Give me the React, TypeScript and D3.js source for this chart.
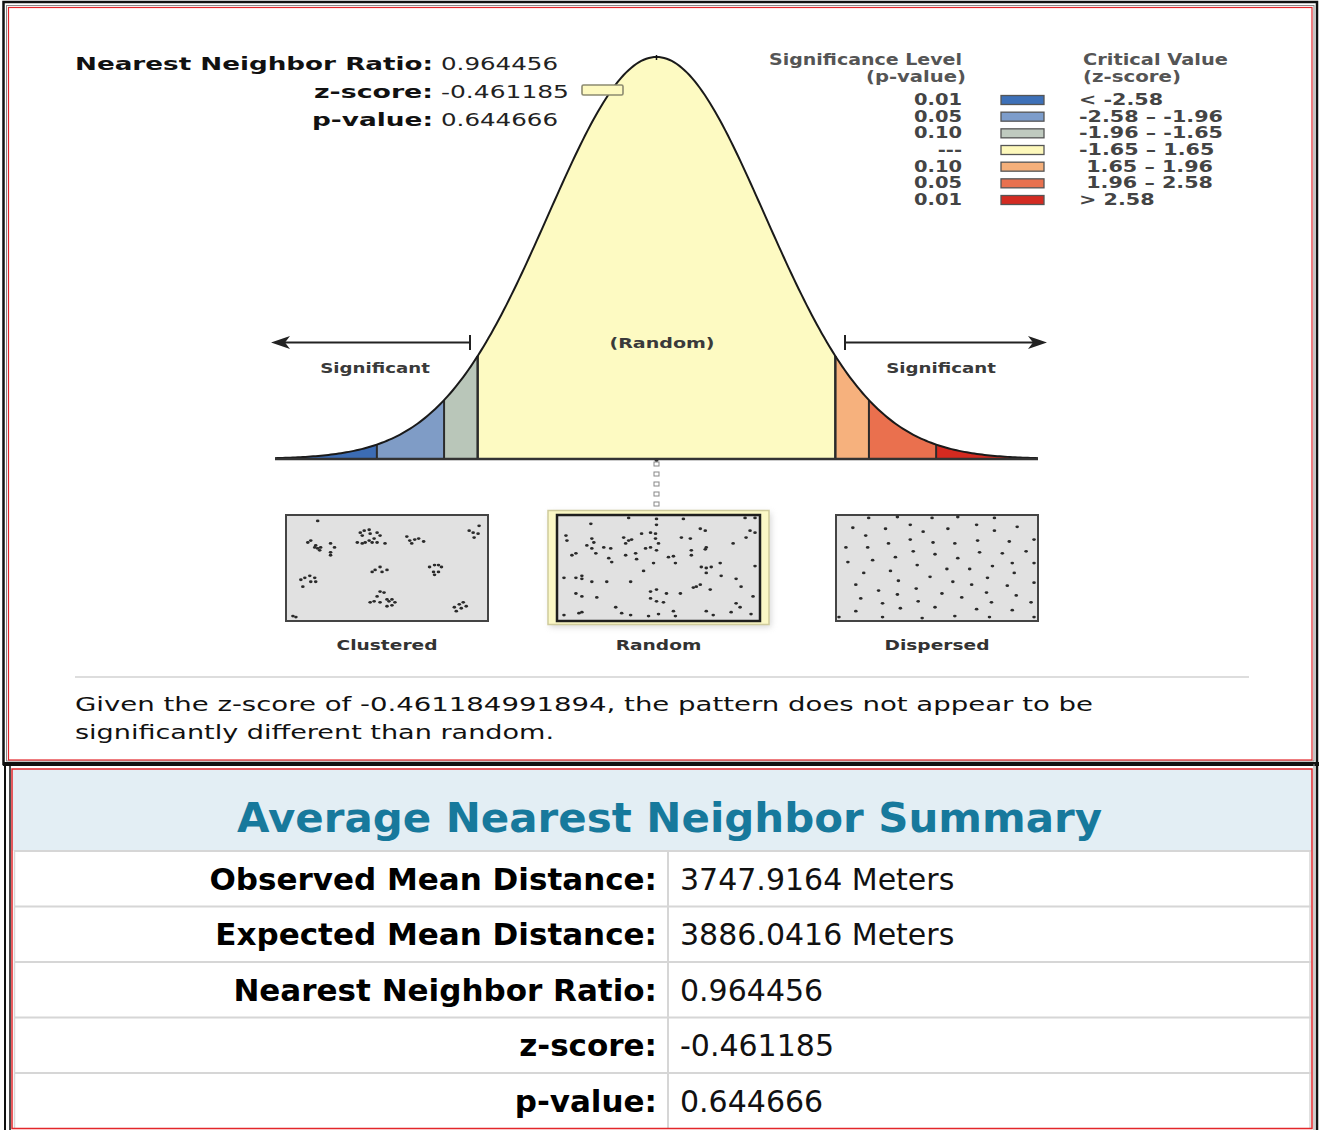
import React from "react";
import * as d3 from "d3";

// ---------- data ----------
const zBreaks = [-3.52, -2.58, -1.96, -1.65, 1.65, 1.96, 2.58, 3.52];
const sectionColors = ["#3c6cb4", "#7f9cc6", "#b9c6b9", "#fdfac2", "#f6b17d", "#ea704e", "#d42a20"];
const pLevels = ["0.01", "0.05", "0.10", "---", "0.10", "0.05", "0.01"];
const zRanges = ["< -2.58", "-2.58 – -1.96", "-1.96 – -1.65", "-1.65 – 1.65", " 1.65 – 1.96", " 1.96 – 2.58", "> 2.58"];
const legendColors = ["#3d70b8", "#7d9dcb", "#bfcabf", "#fdf8bb", "#f5b07b", "#e8714f", "#d32b22"];
const headlineLabels = ["Nearest Neighbor Ratio:", "z-score:", "p-value:"];
const headlineValues = ["0.964456", "-0.461185", "0.644666"];
const patternNames = ["Clustered", "Random", "Dispersed"];
const conclusionLines = [
  "Given the z-score of -0.461184991894, the pattern does not appear to be",
  "significantly different than random.",
];
const summaryTitle = "Average Nearest Neighbor Summary";
const summaryLabels = ["Observed Mean Distance:", "Expected Mean Distance:", "Nearest Neighbor Ratio:", "z-score:", "p-value:"];
const summaryValues = ["3747.9164 Meters", "3886.0416 Meters", "0.964456", "-0.461185", "0.644666"];

const clusteredDots: [number, number][] = [
  [31, 5], [21, 27], [24, 25], [28, 32], [31, 33], [34, 32], [33, 35], [29, 30],
  [44, 28], [48, 32], [44, 37], [44, 40],
  [74, 17], [78, 15], [83, 14], [76, 20], [84, 18], [91, 17], [94, 20], [88, 23], [83, 25], [79, 27], [76, 28], [71, 27], [91, 27], [99, 28], [86, 27],
  [121, 21], [124, 25], [129, 24], [133, 23], [138, 26], [126, 28],
  [184, 15], [188, 17], [193, 18], [194, 10], [189, 22],
  [14, 65], [18, 63], [23, 61], [28, 63], [29, 67], [16, 72], [24, 67],
  [86, 57], [89, 55], [94, 52], [96, 57], [101, 55],
  [144, 52], [149, 50], [153, 50], [156, 52], [148, 57], [153, 57], [149, 60],
  [94, 77], [98, 78], [91, 82], [101, 85], [84, 88], [88, 87], [94, 88], [103, 87], [106, 85], [109, 88], [101, 92], [106, 91],
  [169, 93], [171, 97], [174, 90], [178, 88], [181, 92], [176, 94],
  [6, 102], [9, 103],
];
const randomDots: [number, number][] = [
  [33, 8], [71, 2], [99, 3], [126, 3], [188, 2], [198, 2], [99, 9], [143, 13], [148, 15], [193, 15], [198, 17],
  [8, 20], [9, 25], [34, 23], [36, 27], [29, 30], [34, 33], [46, 32], [53, 33], [66, 22], [71, 25], [74, 24], [68, 28],
  [84, 18], [93, 17], [98, 18], [98, 23], [101, 28], [93, 32], [88, 33], [99, 35], [124, 22], [133, 23], [149, 32],
  [148, 34], [134, 35], [176, 28], [189, 22],
  [14, 40], [18, 38], [38, 38], [51, 43], [54, 47], [68, 40], [78, 38], [79, 44], [96, 48], [111, 42], [116, 41],
  [118, 48], [134, 40], [144, 52], [149, 53], [154, 52], [163, 48], [149, 58], [164, 61], [198, 51],
  [6, 63], [18, 63], [24, 61], [24, 64], [34, 67], [49, 67], [73, 67], [86, 56], [139, 72], [143, 70], [153, 75], [179, 64], [184, 72],
  [18, 79], [24, 82], [39, 83], [93, 77], [99, 75], [93, 84], [99, 87], [106, 88], [109, 79], [123, 79], [136, 73], [196, 82], [179, 89], [183, 93],
  [6, 101], [21, 99], [24, 98], [58, 93], [64, 99], [73, 101], [91, 102], [101, 100], [116, 97], [118, 102], [149, 97], [156, 101], [174, 98], [194, 100],
];
const dispersedDots: [number, number][] = [
  [32, 2], [61, 1], [96, 2], [122, 1], [159, 2],
  [16, 12], [49, 13], [74, 9], [87, 16], [112, 13], [141, 9], [159, 15], [182, 11],
  [29, 20], [52, 28], [74, 24], [97, 27], [119, 28], [142, 25], [174, 26], [199, 24],
  [9, 32], [31, 32], [77, 36], [99, 39], [122, 43], [144, 37], [167, 38], [191, 36],
  [11, 47], [36, 45], [59, 42], [81, 50], [111, 54], [134, 54], [157, 51], [177, 48], [199, 48],
  [27, 58], [54, 56], [94, 62], [117, 67], [136, 70], [152, 63], [179, 58], [199, 68],
  [19, 70], [42, 76], [62, 66], [80, 74], [106, 79], [126, 83], [151, 78], [172, 71],
  [24, 84], [46, 89], [61, 80], [82, 87], [156, 88], [181, 81], [196, 88],
  [19, 97], [64, 94], [99, 93], [141, 95], [177, 96],
  [2, 103], [46, 103], [86, 104], [119, 102], [154, 103], [199, 103],
];

// ---------- layout ----------
const W = 1320;
const H = 1130;
const FONT = "'DejaVu Sans', Verdana, sans-serif";

const xZ = d3.scaleLinear().domain([-3.52, 3.52]).range([275, 1038]);
const yP = d3.scaleLinear().domain([0, 1]).range([459, 57]);
const pdf = (z: number) => Math.exp((-z * z) / 2);

const sample = (a: number, b: number, n = 80) => d3.range(n + 1).map((k) => a + ((b - a) * k) / n);

const areaGen = d3
  .area<number>()
  .x((z) => xZ(z))
  .y0(yP(0))
  .y1((z) => yP(pdf(z)));
const lineGen = d3
  .line<number>()
  .x((z) => xZ(z))
  .y((z) => yP(pdf(z)));

const boxes = [
  { x0: 286, x1: 488 },
  { x0: 557, x1: 760 },
  { x0: 836, x1: 1038 },
];
const boxY0 = 515;
const boxY1 = 621;
const dotSets = [clusteredDots, randomDots, dispersedDots];

const legendRowY = d3.scaleLinear().domain([0, 6]).range([100, 200]);
const tableRowTop = d3.scaleLinear().domain([0, 5]).range([851, 1128.5]);

function Stretch({ x, y, sx, anchor = "start", children, size, weight = "normal", fill = "#111" }: any) {
  return (
    <text
      transform={`translate(${x},${y}) scale(${sx},1)`}
      textAnchor={anchor}
      fontSize={size}
      fontWeight={weight}
      fill={fill}
      fontFamily={FONT}
      style={{ whiteSpace: "pre" }}
    >
      {children}
    </text>
  );
}

export default function App() {
  const headLabelLen = [358, 119, 121];
  const headValueLen = [117, 128, 117];
  const headBase = [70, 98, 126];

  return (
    <svg
      width={W}
      height={H}
      viewBox={`0 0 ${W} ${H}`}
      style={{ position: "absolute", left: 0, top: 0, background: "#fff" }}
      fontFamily={FONT}
    >
      <defs>
        <filter id="shadow" x="-20%" y="-20%" width="140%" height="140%">
          <feGaussianBlur stdDeviation="3" />
        </filter>
      </defs>
      <rect x={0} y={0} width={W} height={H} fill="#fff" />

      {/* ---------- frames ---------- */}
      <rect x={3.5} y={2} width={1313.5} height={762} fill="none" stroke="#111" strokeWidth={2.5} />
      <rect x={6.5} y={5.5} width={1307.5} height={755.5} fill="none" stroke="#888" strokeWidth={1} />
      <rect x={8.5} y={7.5} width={1303.5} height={752.5} fill="none" stroke="#e3262a" strokeWidth={1.2} />
      <line x1={3} x2={1319} y1={764} y2={764} stroke="#111" strokeWidth={4} />
      <line x1={5} x2={5} y1={764} y2={H} stroke="#111" strokeWidth={2} />
      <line x1={10} x2={10} y1={764} y2={H} stroke="#111" strokeWidth={1.5} />
      <line x1={1317} x2={1317} y1={764} y2={H} stroke="#111" strokeWidth={2.5} />
      <line x1={1314} x2={1314} y1={764} y2={H} stroke="#999" strokeWidth={1} />

      {/* ---------- headline stats ---------- */}
      {headlineLabels.map((l, i) => (
        <g key={l}>
          <text
            x={433}
            y={headBase[i]}
            textAnchor="end"
            fontSize={18}
            fontWeight="bold"
            fill="#111"
            textLength={headLabelLen[i]}
            lengthAdjust="spacingAndGlyphs"
          >
            {l}
          </text>
          <text
            x={441}
            y={headBase[i]}
            fontSize={18}
            fill="#222"
            textLength={headValueLen[i]}
            lengthAdjust="spacingAndGlyphs"
          >
            {headlineValues[i]}
          </text>
        </g>
      ))}

      {/* ---------- legend ---------- */}
      <text x={962} y={65} textAnchor="end" fontSize={15} fontWeight="bold" fill="#555" textLength={193} lengthAdjust="spacingAndGlyphs">
        Significance Level
      </text>
      <text x={966} y={82} textAnchor="end" fontSize={15} fontWeight="bold" fill="#555" textLength={100} lengthAdjust="spacingAndGlyphs">
        (p-value)
      </text>
      <text x={1083} y={65} fontSize={15} fontWeight="bold" fill="#555" textLength={145} lengthAdjust="spacingAndGlyphs">
        Critical Value
      </text>
      <text x={1083} y={82} fontSize={15} fontWeight="bold" fill="#555" textLength={98} lengthAdjust="spacingAndGlyphs">
        (z-score)
      </text>
      {pLevels.map((p, i) => (
        <g key={i}>
          <Stretch x={962} y={legendRowY(i) + 5} sx={1.3} anchor="end" size={15} weight="bold" fill="#444">
            {p}
          </Stretch>
          <rect x={1001} y={legendRowY(i) - 4.5} width={43} height={9} fill={legendColors[i]} stroke="#555" strokeWidth={1.3} />
          <Stretch x={1079} y={legendRowY(i) + 5} sx={1.38} size={15} weight="bold" fill="#444">
            {zRanges[i]}
          </Stretch>
        </g>
      ))}

      {/* ---------- bell curve ---------- */}
      {sectionColors.map((c, i) => (
        <path key={i} d={areaGen(sample(zBreaks[i], zBreaks[i + 1])) || ""} fill={c} stroke="none" />
      ))}
      {zBreaks.slice(1, -1).map((z) => (
        <line
          key={z}
          x1={xZ(z)}
          x2={xZ(z)}
          y1={yP(0)}
          y2={yP(pdf(z))}
          stroke="#2b2b2b"
          strokeWidth={Math.abs(z) === 1.65 ? 2.5 : 2}
        />
      ))}
      <path d={lineGen(sample(-3.52, 3.52, 300)) || ""} fill="none" stroke="#1a1a1a" strokeWidth={2} />
      <line x1={xZ(-3.52)} x2={xZ(3.52)} y1={yP(0)} y2={yP(0)} stroke="#333" strokeWidth={2.5} />
      <line x1={xZ(0)} x2={xZ(0)} y1={yP(1) - 2} y2={yP(1) + 3} stroke="#111" strokeWidth={1.5} />

      {/* observed z-score marker */}
      <rect x={582} y={85} width={41} height={10} rx={1.5} fill="#fdf9c0" stroke="#8c8a70" strokeWidth={1.6} />

      {/* arrows */}
      <line x1={278} x2={470} y1={342.5} y2={342.5} stroke="#222" strokeWidth={2} />
      <path d="M271,342.5 L290,336 L285,342.5 L290,349 Z" fill="#222" />
      <line x1={470} x2={470} y1={335} y2={350} stroke="#222" strokeWidth={2} />
      <line x1={845} x2={1040} y1={342.5} y2={342.5} stroke="#222" strokeWidth={2} />
      <path d="M1047,342.5 L1028,336 L1033,342.5 L1028,349 Z" fill="#222" />
      <line x1={845} x2={845} y1={335} y2={350} stroke="#222" strokeWidth={2} />

      <Stretch x={375} y={373} sx={1.3} anchor="middle" size={14} weight="bold" fill="#3a3a3a">
        Significant
      </Stretch>
      <Stretch x={941} y={373} sx={1.3} anchor="middle" size={14} weight="bold" fill="#3a3a3a">
        Significant
      </Stretch>
      <Stretch x={662} y={348} sx={1.36} anchor="middle" size={14} weight="bold" fill="#3a3a3a">
        (Random)
      </Stretch>

      {/* connector */}
      <circle cx={xZ(0)} cy={yP(0) + 1} r={2} fill="#333" />
      {d3.range(5).map((k) => (
        <rect key={k} x={xZ(0) - 2.5} y={462 + k * 10} width={5} height={4} fill="#fff" stroke="#888" strokeWidth={1} />
      ))}

      {/* ---------- pattern boxes ---------- */}
      <rect x={550} y={513} width={221} height={114} fill="#bbb" opacity={0.6} filter="url(#shadow)" />
      <rect x={548} y={510.5} width={221} height={114} fill="#fbf8c6" stroke="#cfcb9c" strokeWidth={1.5} />
      {boxes.map((b, i) => {
        const sx = d3.scaleLinear().domain([0, 202]).range([b.x0 + 1, b.x1 - 1]);
        const sy = d3.scaleLinear().domain([0, 106]).range([boxY0 + 1, boxY1 - 1]);
        return (
          <g key={i}>
            <rect x={b.x0} y={boxY0} width={b.x1 - b.x0} height={boxY1 - boxY0} fill="#e1e1e1" stroke={i === 1 ? "#1e1e1e" : "#444"} strokeWidth={i === 1 ? 2.5 : 2} />
            {dotSets[i].map(([dx, dy], k) => (
              <ellipse key={k} cx={sx(dx)} cy={sy(dy)} rx={1.8} ry={1.4} fill="#2a2a2a" />
            ))}
            <Stretch x={(b.x0 + b.x1) / 2} y={650} sx={1.33} anchor="middle" size={14} weight="bold" fill="#333">
              {patternNames[i]}
            </Stretch>
          </g>
        );
      })}

      {/* ---------- conclusion ---------- */}
      <line x1={75} x2={1249} y1={677} y2={677} stroke="#d2d2d2" strokeWidth={1.5} />
      <text x={75} y={711} fontSize={20} fill="#111" textLength={1018} lengthAdjust="spacingAndGlyphs">
        {conclusionLines[0]}
      </text>
      <text x={75} y={739} fontSize={20} fill="#111" textLength={479} lengthAdjust="spacingAndGlyphs">
        {conclusionLines[1]}
      </text>

      {/* ---------- summary table ---------- */}
      <rect x={12} y={769} width={1300} height={82} fill="#e3eef4" />
      <text x={669.5} y={832} textAnchor="middle" fontSize={40} fontWeight="bold" fill="#17799c" textLength={865} lengthAdjust="spacingAndGlyphs">
        {summaryTitle}
      </text>
      {summaryLabels.map((l, i) => {
        const top = tableRowTop(i);
        const bot = tableRowTop(i + 1);
        const base = (top + bot) / 2 + 11;
        return (
          <g key={l}>
            <line x1={14} x2={1311} y1={top} y2={top} stroke="#d6d6d6" strokeWidth={2} />
            <text x={657} y={base} textAnchor="end" fontSize={31} fontWeight="bold" fill="#000">
              {l}
            </text>
            <text x={680} y={base} fontSize={30} fill="#111">
              {summaryValues[i]}
            </text>
          </g>
        );
      })}
      <line x1={668} x2={668} y1={851} y2={1128} stroke="#d6d6d6" strokeWidth={2} />
      <line x1={14.5} x2={14.5} y1={851} y2={1128} stroke="#d6d6d6" strokeWidth={1.5} />
      <line x1={1310} x2={1310} y1={851} y2={1128} stroke="#d6d6d6" strokeWidth={1.5} />
      <rect x={12} y={769} width={1300} height={359.5} fill="none" stroke="#e3262a" strokeWidth={1.5} />
    </svg>
  );
}
